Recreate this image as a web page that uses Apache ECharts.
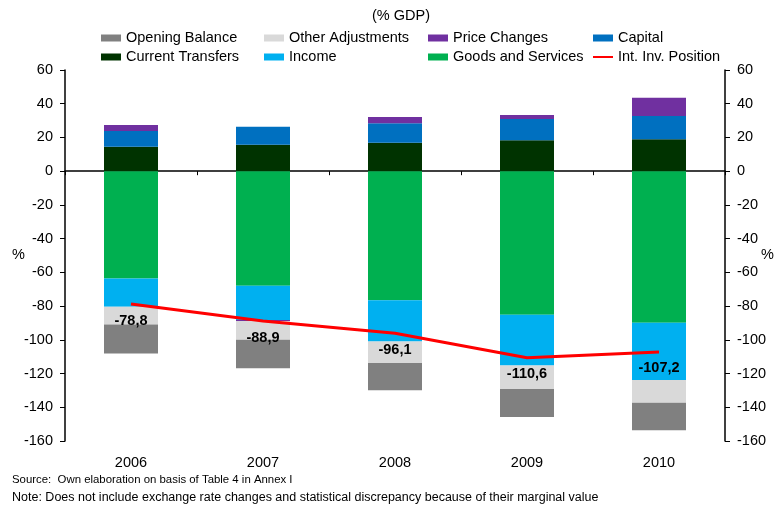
<!DOCTYPE html>
<html>
<head>
<meta charset="utf-8">
<script src="https://cdn.jsdelivr.net/npm/echarts@6/dist/echarts.min.js"></script>
<style>
    * { margin: 0; padding: 0; }
    #main { width: 776px; height: 506px; background: #fff; }
</style>
</head>
<body>
<div id="main"></div>
<script>
    // data (% GDP)
    var years = ['2006', '2007', '2008', '2009', '2010'];
    var openingBalance = [-17.2, -16.9, -16.2, -16.6, -16.3];
    var otherAdjustments = [-10.5, -11.1, -12.7, -13.9, -13.5];
    var priceChanges = [3.6, -0.6, 3.7, 2.3, 10.9];
    var capital = [9.3, 10.7, 11.5, 12.7, 13.7];
    var currentTransfers = [14.5, 15.7, 16.9, 18.3, 19.0];
    var income = [-16.7, -20.4, -24.4, -30.2, -33.9];
    var goodsServices = [-63.7, -67.9, -76.6, -85.1, -89.9];
    var iip = [-78.8, -88.9, -96.1, -110.6, -107.2];

    var font = 'Liberation Sans, Arial, sans-serif';
    var myChart = echarts.init(document.getElementById('main'));

    function bar(name, data, color) {
        return {
            name: name,
            type: 'bar',
            stack: 'total',
            barWidth: 54,
            data: data,
            itemStyle: { color: color },
            emphasis: { disabled: true }
        };
    }

    function legendCol(left, names) {
        return {
            orient: 'vertical',
            left: left,
            top: 25,
            itemWidth: 20,
            itemHeight: 7,
            itemGap: 3,
            selectedMode: false,
            data: names.map(function (n) {
                return n === 'Int. Inv. Position' ? { name: n } : { name: n, icon: 'rect' };
            }),
            textStyle: { fontFamily: font, fontSize: 14.5, color: '#000', lineHeight: 16 }
        };
    }

    var option = {
        animation: false,
        textStyle: { fontFamily: font },
        title: {
            text: '(% GDP)',
            left: 367,
            top: 3,
            textStyle: { fontFamily: font, fontSize: 14.5, fontWeight: 'normal', color: '#000' }
        },
        legend: [
            legendCol(96, ['Opening Balance', 'Current Transfers']),
            legendCol(259, ['Other Adjustments', 'Income']),
            legendCol(423, ['Price Changes', 'Goods and Services']),
            legendCol(587, ['Capital', 'Int. Inv. Position'])
        ],
        grid: { left: 65, right: 51, top: 70, bottom: 65 },
        xAxis: [{
            type: 'category',
            data: years,
            axisLine: { show: false },
            axisTick: { show: false },
            axisLabel: { margin: 14, fontSize: 14.5, color: '#000', fontFamily: font }
        }, {
            type: 'category',
            data: years,
            position: 'bottom',
            axisLine: { onZero: true, lineStyle: { color: '#000', width: 1.5 } },
            axisTick: { show: true, length: 4, lineStyle: { color: '#000' } },
            axisLabel: { show: false }
        }],
        yAxis: [{
            type: 'value',
            min: -160, max: 60, interval: 20,
            axisLine: { show: true, lineStyle: { color: '#000', width: 1.5 } },
            axisTick: { show: true, length: 5, lineStyle: { color: '#000' } },
            splitLine: { show: false },
            axisLabel: { margin: 12, fontSize: 14.5, color: '#000', fontFamily: font }
        }, {
            type: 'value',
            position: 'right',
            min: -160, max: 60, interval: 20,
            axisLine: { show: true, lineStyle: { color: '#000', width: 1.5 } },
            axisTick: { show: true, length: 5, lineStyle: { color: '#000' } },
            splitLine: { show: false },
            axisLabel: { margin: 12, fontSize: 14.5, color: '#000', fontFamily: font }
        }],
        graphic: [
            { type: 'text', left: 12, top: 247, style: { text: '%', font: '14.5px ' + font, fill: '#000' } },
            { type: 'text', left: 761, top: 247, style: { text: '%', font: '14.5px ' + font, fill: '#000' } },
            { type: 'text', left: 12, top: 474, style: { text: 'Source:  Own elaboration on basis of Table 4 in Annex I', font: '11.4px ' + font, fill: '#000' } },
            { type: 'text', left: 12, top: 491, style: { text: 'Note: Does not include exchange rate changes and statistical discrepancy because of their marginal value', font: '12.5px ' + font, fill: '#000' } }
        ],
        series: [
            bar('Current Transfers', currentTransfers, '#003300'),
            bar('Goods and Services', goodsServices, '#00b050'),
            bar('Income', income, '#00b0f0'),
            bar('Capital', capital, '#0070c0'),
            bar('Price Changes', priceChanges, '#7030a0'),
            bar('Other Adjustments', otherAdjustments, '#d9d9d9'),
            bar('Opening Balance', openingBalance, '#808080'),
            {
                name: 'Int. Inv. Position',
                type: 'line',
                data: iip,
                symbol: 'circle',
                symbolSize: 2,
                z: 5,
                lineStyle: { color: '#ff0000', width: 3 },
                itemStyle: { color: 'transparent', borderWidth: 0 },
                label: {
                    show: true,
                    position: 'bottom',
                    distance: 8,
                    fontFamily: font,
                    fontSize: 14.5,
                    fontWeight: 'bold',
                    color: '#000',
                    formatter: function (p) {
                        return String(p.value).replace('.', ',');
                    }
                },
                emphasis: { disabled: true }
            }
        ]
    };

    myChart.setOption(option);
</script>
</body>
</html>
